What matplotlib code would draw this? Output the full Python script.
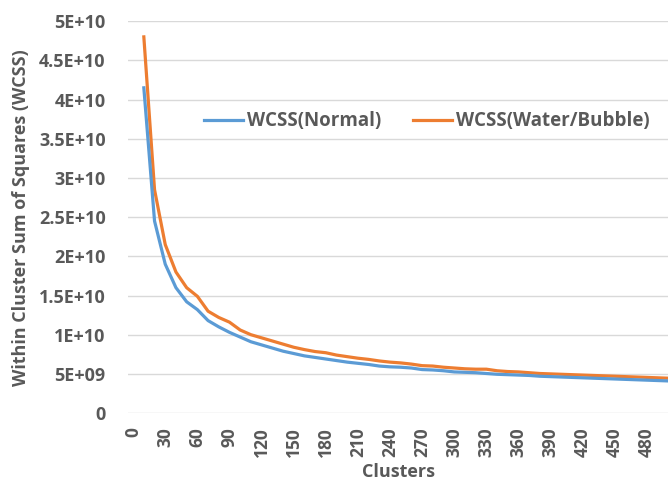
import numpy as np
import matplotlib.pyplot as plt

clusters = list(range(10, 501, 10))

wcss_normal = [41.5, 24.5, 19.0, 16.0, 14.2, 13.2, 11.8, 11.0, 10.3, 9.7,
               9.1, 8.7, 8.3, 7.9, 7.6, 7.3, 7.1, 6.9, 6.7, 6.5,
               6.35, 6.2, 6.0, 5.9, 5.85, 5.75, 5.55, 5.5, 5.4, 5.25,
               5.2, 5.15, 5.05, 4.95, 4.9, 4.85, 4.8, 4.7, 4.65, 4.6,
               4.55, 4.5, 4.45, 4.4, 4.35, 4.3, 4.25, 4.2, 4.15, 4.1]

wcss_water = [48.0, 28.5, 21.5, 18.0, 16.0, 14.9, 13.0, 12.2, 11.6, 10.6,
              10.0, 9.6, 9.2, 8.8, 8.4, 8.1, 7.85, 7.7, 7.4, 7.2,
              7.0, 6.85, 6.65, 6.5, 6.4, 6.25, 6.05, 6.0, 5.85, 5.75,
              5.65, 5.6, 5.6, 5.4, 5.3, 5.25, 5.15, 5.05, 5.0, 4.95,
              4.9, 4.85, 4.8, 4.75, 4.7, 4.65, 4.6, 4.55, 4.5, 4.45]

x_ticks = list(range(0, 481, 30))
y_ticks = [0, 5e9, 1e10, 1.5e10, 2e10, 2.5e10, 3e10, 3.5e10, 4e10, 4.5e10, 5e10]
y_labels = ['0', '5E+09', '1E+10', '1.5E+10', '2E+10', '2.5E+10',
            '3E+10', '3.5E+10', '4E+10', '4.5E+10', '5E+10']

plt.rcParams['font.family'] = ['Open Sans', 'DejaVu Sans']
plt.rcParams['font.weight'] = 'bold'
text_col = '#595959'

fig = plt.figure(figsize=(6.69, 4.82), dpi=100)
ax = fig.add_axes([0.191, 0.143, 0.808, 0.813])

ax.plot(clusters, np.array(wcss_normal) * 1e9, color='#5B9BD5', lw=2.3,
        label='WCSS(Normal)', zorder=3)
ax.plot(clusters, np.array(wcss_water) * 1e9, color='#ED7D31', lw=2.3,
        label='WCSS(Water/Bubble)', zorder=2)

ax.set_xlim(-5, 500)
ax.set_ylim(0, 5e10)
ax.set_xticks(x_ticks)
ax.set_xticklabels([str(t) for t in x_ticks], rotation=90, fontsize=12.5,
                   color=text_col, fontweight='bold')
ax.set_yticks(y_ticks)
ax.set_yticklabels(y_labels, fontsize=13, color=text_col, fontweight='bold')
ax.tick_params(axis='y', length=0, pad=16)
ax.tick_params(axis='x', length=0, pad=10)
ax.grid(axis='y', color='#D9D9D9', lw=1)
ax.set_axisbelow(True)
for s in ax.spines.values():
    s.set_visible(False)

ax.set_xlabel('Clusters', fontsize=13, color=text_col, fontweight='bold')
ax.xaxis.set_label_coords(0.5, -0.128)
ax.set_ylabel('Within Cluster Sum of Squares (WCSS)', fontsize=13,
              color=text_col, fontweight='bold')
ax.yaxis.set_label_coords(-0.18, 0.5)

leg = ax.legend(loc='center', bbox_to_anchor=(0.553, 0.745), ncol=2,
                frameon=False, fontsize=13.5, handlelength=2.1,
                columnspacing=1.7, handletextpad=0.2)
for t in leg.get_texts():
    t.set_color(text_col)

fig.savefig('out.png', dpi=100)
